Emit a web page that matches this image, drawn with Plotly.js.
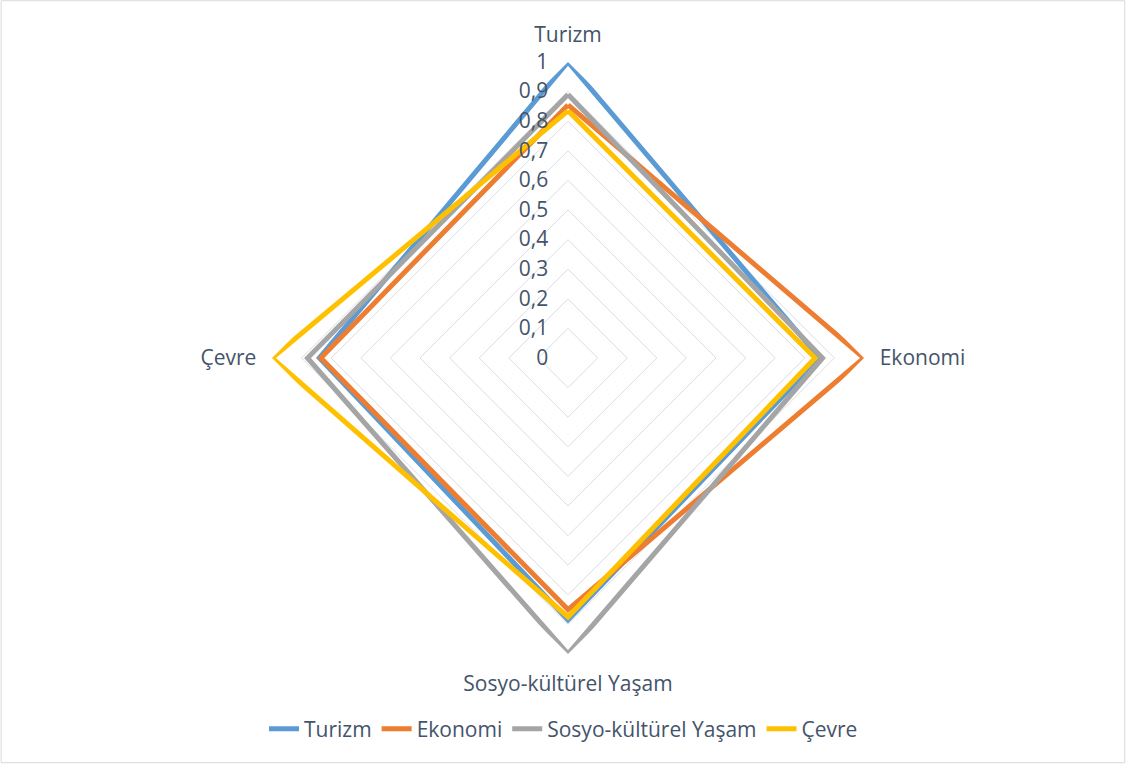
<!DOCTYPE html>
<html>
<head>
<meta charset="utf-8">
<script src="https://cdn.plot.ly/plotly-3.0.1.min.js"></script>
<style>html,body{margin:0;padding:0;background:#fff;}#chart{width:1127px;height:765px;}</style>
</head>
<body>
<div id="chart"></div>
<script>
const categories = ["Turizm", "Ekonomi", "Sosyo-kültürel Yaşam", "Çevre"];
const seriesNames = ["Turizm", "Ekonomi", "Sosyo-kültürel Yaşam", "Çevre"];
const turizm = [1.0, 0.85, 0.885, 0.84];
const ekonomi = [0.855, 1.0, 0.85, 0.835];
const sosyo = [0.89, 0.86, 1.0, 0.88];
const cevre = [0.835, 0.835, 0.875, 1.0];
const radialTicks = [0, 0.1, 0.2, 0.3, 0.4, 0.5, 0.6, 0.7, 0.8, 0.9, 1];

const colors = ["#5B9BD5", "#ED7D31", "#A5A5A5", "#FFC000"];
const allValues = [turizm, ekonomi, sosyo, cevre];
const textColor = "#44546A";
const fontFam = "'Open Sans', Lato, sans-serif";

const traces = allValues.map((vals, i) => ({
  type: "scatterpolar",
  mode: "lines",
  name: seriesNames[i],
  r: vals.concat([vals[0]]),
  theta: categories.concat([categories[0]]),
  line: {color: colors[i], width: 5, shape: "linear"},
  hoverinfo: "skip"
}));

const layout = {
  width: 1127, height: 765,
  margin: {l: 0, r: 0, t: 0, b: 0},
  paper_bgcolor: "#fff",
  separators: ",.",
  font: {family: fontFam, color: textColor, size: 21},
  showlegend: true,
  legend: {
    orientation: "h", x: 0.5, xanchor: "center", y: 0.047, yanchor: "middle",
    font: {family: fontFam, size: 21, color: textColor},
    tracegroupgap: 0
  },
  polar: {
    domain: {x: [272/1127, 864/1127], y: [1 - 654/765, 1 - 62/765]},
    bgcolor: "rgba(0,0,0,0)",
    gridshape: "linear",
    angularaxis: {
      type: "category",
      rotation: 90,
      direction: "clockwise",
      showgrid: false,
      showline: false,
      ticks: "outside",
      ticklen: 11,
      tickcolor: "rgba(0,0,0,0)",
      tickfont: {family: fontFam, size: 21, color: textColor}
    },
    radialaxis: {
      range: [0, 1],
      tickvals: radialTicks,
      tickformat: ".1~f",
      angle: 90,
      tickangle: 90,
      side: "counterclockwise",
      showline: false,
      ticks: "outside",
      ticklen: 12,
      tickcolor: "rgba(0,0,0,0)",
      gridcolor: "#D9DDE4",
      gridwidth: 1,
      tickfont: {family: fontFam, size: 21, color: textColor}
    }
  },
  shapes: [{
    type: "rect", xref: "paper", yref: "paper",
    x0: 0.001, x1: 0.998, y0: 0.003, y1: 0.999,
    line: {color: "#D9D9D9", width: 1}
  }]
};

Plotly.newPlot("chart", traces, layout, {displayModeBar: false, staticPlot: true});
</script>
</body>
</html>
